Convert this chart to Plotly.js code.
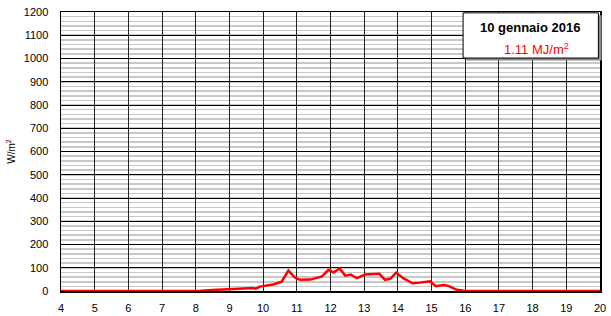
<!DOCTYPE html>
<html><head><meta charset="utf-8">
<script src="https://cdn.plot.ly/plotly-3.0.1.min.js"></script>
<style>html,body{margin:0;padding:0;background:#fff;}#chart{width:611px;height:316px;}</style>
</head><body><div id="chart"></div>
<script>
const hours = [4, 5, 6, 7, 8, 8.15, 8.5, 9, 9.3, 9.7, 9.78, 9.9, 10.3, 10.55, 10.75, 10.95, 11.1, 11.4, 11.75, 11.94, 12.09, 12.27, 12.44, 12.6, 12.78, 13.03, 13.45, 13.62, 13.78, 13.95, 14.17, 14.44, 14.66, 14.95, 15.13, 15.36, 15.5, 15.75, 16, 17, 18, 19, 20];
const radiation = [0, 0, 0, 0, 0, 1, 4, 9, 12, 13, 10, 19, 28, 40, 88, 57, 48, 49, 63, 91, 79, 97, 66, 71, 55, 71, 74, 48, 53, 79, 54, 33, 36, 42, 21, 26, 22, 5, 0, 0, 0, 0, 0];
const dateLabel = "10 gennaio 2016";
const energyLabel = "1.11 MJ/m<sup>2</sup>";
const yTickVals = [0,100,200,300,400,500,600,700,800,900,1000,1100,1200];
const xTickVals = [4,5,6,7,8,9,10,11,12,13,14,15,16,17,18,19,20];

const trace = {x: hours, y: radiation, type: 'scatter', mode: 'lines',
  line: {color: '#ff0000', width: 2.5}, hoverinfo: 'skip'};

const font = {family: 'Liberation Sans, Arial, sans-serif', size: 11, color: '#000'};
const layout = {
  width: 611, height: 316,
  margin: {l: 61, r: 11, t: 12, b: 25, pad: 0},
  paper_bgcolor: '#fff', plot_bgcolor: '#fff',
  showlegend: false, font: font,
  xaxis: {range: [4, 20], tickvals: xTickVals, ticks: '', ticklabelstandoff: 6,
    showgrid: true, gridcolor: '#222', gridwidth: 1, zeroline: false,
    showline: true, linecolor: '#000', linewidth: 1.5, mirror: true,
    tickfont: font, fixedrange: true},
  yaxis: {range: [0, 1200], tickvals: yTickVals, ticks: '', ticklabelstandoff: 9,
    showgrid: true, gridcolor: '#000', gridwidth: 1, zeroline: false,
    showline: true, linecolor: '#000', linewidth: 1.5, mirror: true,
    minor: {dtick: 20, showgrid: true, gridcolor: '#c8c8c8', gridwidth: 1.6, ticks: ''},
    tickfont: font, fixedrange: true,
    title: {text: 'W/m<sup>2</sup>', font: {family: 'Liberation Sans, Arial, sans-serif', size: 10, color: '#000'}, standoff: 6}},
  shapes: [
    {type: 'rect', xref: 'paper', yref: 'paper', x0: 0.752, x1: 1.003, y0: 0.826, y1: 0.988,
     line: {width: 0}, fillcolor: '#8a8a8a', layer: 'above'},
    {type: 'rect', xref: 'paper', yref: 'paper', x0: 0.746, x1: 0.997, y0: 0.835, y1: 0.997,
     line: {color: '#000', width: 1}, fillcolor: '#fff', layer: 'above'}
  ],
  annotations: [
    {xref: 'paper', yref: 'paper', x: 0.870, y: 0.946, text: '<b>' + dateLabel + '</b>', showarrow: false,
     font: {family: 'Liberation Sans, Arial, sans-serif', size: 13, color: '#000'}, xanchor: 'center', yanchor: 'middle'},
    {xref: 'paper', yref: 'paper', x: 0.883, y: 0.866, text: energyLabel, showarrow: false,
     font: {family: 'Liberation Sans, Arial, sans-serif', size: 13, color: '#ff0000'}, xanchor: 'center', yanchor: 'middle'}
  ]
};
Plotly.newPlot('chart', [trace], layout, {staticPlot: true, displayModeBar: false});
</script></body></html>
